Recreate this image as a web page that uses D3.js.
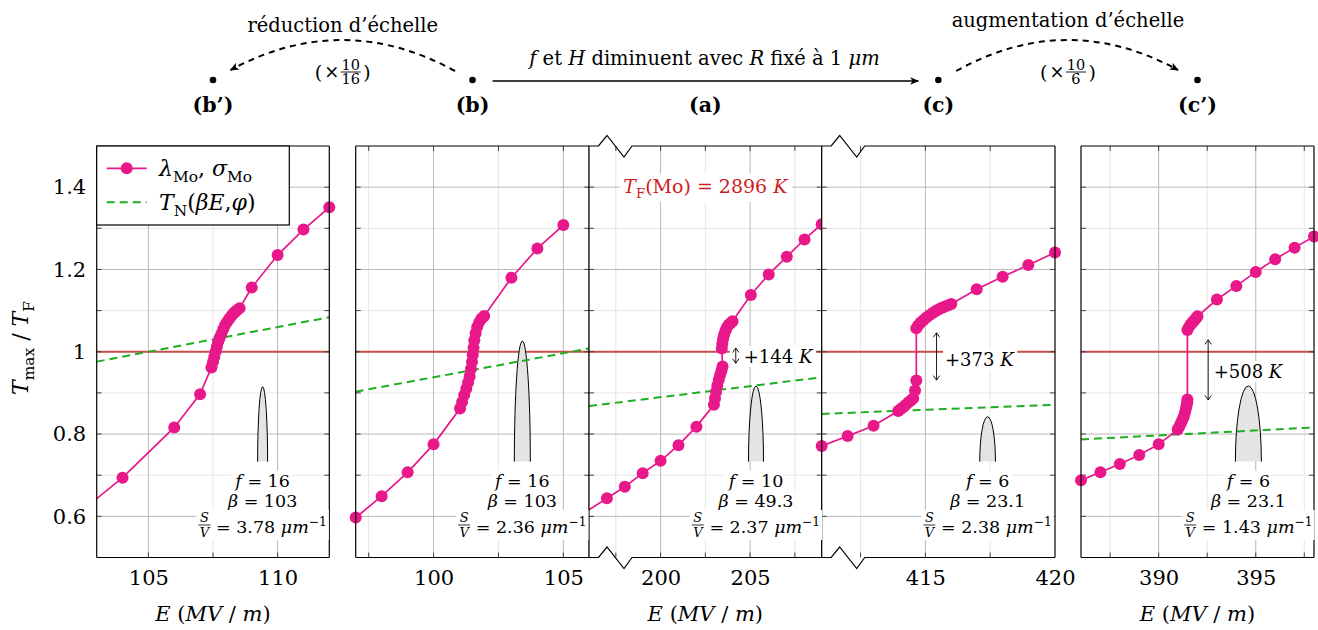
<!DOCTYPE html>
<html><head><meta charset="utf-8">
<script src="https://cdnjs.cloudflare.com/ajax/libs/d3/7.8.5/d3.min.js"></script>
<style>
html,body{margin:0;padding:0;background:#fff;}
svg{display:block;font-family:"DejaVu Serif",serif;}
</style></head><body>
<svg id="chart" width="1318" height="630"></svg>
<script>
// ===================== DATA =====================
const panelLabels = ["(b’)", "(b)", "(a)", "(c)", "(c’)"];
const xDomains = [[103,112],[97,106],[196,209],[411,420],[386,398]];
const xTickVals = [[105,110],[100,105],[200,205],[415,420],[390,395]];
const yTickVals = [0.6,0.8,1,1.2,1.4];
const yTickLabels = ["0.6","0.8","1","1.2","1.4"];

// lambda_Mo, sigma_Mo series: E (MV/m) and Tmax/TF
const eBp = [102,104,106,107,107.44,107.50,107.55,107.60,107.65,107.70,107.75,107.82,107.90,107.97,108.05,108.13,108.21,108.29,108.37,108.45,108.53,109,110,111,112];
const tBp = [0.592,0.694,0.816,0.897,0.962,0.975,0.988,1.000,1.012,1.024,1.033,1.043,1.055,1.065,1.073,1.080,1.087,1.093,1.098,1.102,1.106,1.156,1.235,1.297,1.351];
const eB = [97,98,99,100,101.02,101.10,101.18,101.26,101.33,101.39,101.44,101.48,101.51,101.54,101.57,101.62,101.68,101.76,101.85,101.95,103,104,105];
const tB = [0.597,0.649,0.707,0.775,0.862,0.878,0.895,0.910,0.925,0.940,0.958,0.975,0.992,1.010,1.028,1.045,1.060,1.072,1.081,1.087,1.180,1.251,1.308];
const eA = [195,197,198,199,200,201,202,202.98,203.04,203.10,203.17,203.25,203.33,203.40,203.46,203.42,203.45,203.49,203.55,203.63,203.72,203.82,203.92,204.02,205.04,206.04,207.05,208.04,209];
const tA = [0.588,0.644,0.672,0.705,0.735,0.773,0.818,0.871,0.887,0.903,0.918,0.932,0.944,0.954,0.964,1.008,1.020,1.031,1.042,1.052,1.060,1.066,1.070,1.074,1.138,1.188,1.231,1.273,1.310];
const eC = [411,412,413,413.95,414.05,414.15,414.25,414.35,414.45,414.53,414.60,414.65,414.65,414.72,414.82,414.93,415.04,415.16,415.28,415.40,415.52,415.64,415.76,415.88,416.0,416.98,417.98,418.97,420];
const tC = [0.771,0.795,0.820,0.856,0.861,0.866,0.871,0.877,0.882,0.887,0.906,0.930,1.057,1.064,1.071,1.077,1.083,1.089,1.094,1.099,1.103,1.107,1.110,1.113,1.116,1.152,1.182,1.211,1.241];
const eCp = [386,387,388,389,390,390.98,391.06,391.14,391.22,391.29,391.35,391.40,391.44,391.47,391.48,391.48,391.56,391.65,391.74,391.83,391.92,392.0,393,394,395,396,397,398];
const tCp = [0.688,0.707,0.727,0.749,0.775,0.811,0.818,0.826,0.834,0.842,0.852,0.861,0.870,0.877,0.884,1.053,1.060,1.066,1.071,1.076,1.081,1.086,1.127,1.160,1.194,1.225,1.253,1.280];

// T_N(beta E, phi) at the two ends of each panel's E range
const tnStart = [0.976,0.903,0.868,0.849,0.787];
const tnEnd   = [1.084,1.008,0.938,0.871,0.816];

// emitter parameters
const fVals = ["16","16","10","6","6"];
const betaVals = ["103","103","49.3","23.1","23.1"];
const svVals = ["3.78","2.36","2.37","2.38","1.43"];

// temperature jumps (panels a, c, c')
const jumpPanel = [2,3,4];
const jumpLabels = ["+144","+373","+508"];
const jumpE  = [204.2,415.43,392.55];
const jumpHi = [1.009,1.046,1.029];
const jumpLo = [0.972,0.931,0.883];

// emitter tip sketches (centre E, apex in Tmax/TF units)
const tipE = [109.42,103.42,205.33,417.40,394.62];
const tipTop = [0.915,1.026,0.917,0.842,0.917];
const tipBase = 0.733;

// ===================== LAYOUT =====================
const panelX = [[96.7,329.3],[355.7,589.3],[589,821.7],[821.7,1055],[1081,1314]];
const broken = [false,false,true,true,false];
const tipW = [10,16,15,15.7,26];
const Y0 = 146, Y1 = 557.5;
const PINK = "#e8178a", GREEN = "#1fae1f", RED = "#c8504b", TXTRED = "#d01c1c";
const NB = "\u00a0";

const svg = d3.select("#chart");
const defs = svg.append("defs");
const y = d3.scaleLinear().domain([0.5,1.5]).range([Y1,Y0]);

function rich(t, parts, size){
  let shift = 0;
  parts.forEach(([txt, style])=>{
    const f = (style||"").split(" ");
    const ts = t.append("tspan").text(txt.replace(/ /g, NB));
    let target = 0;
    if (f.includes("sub")) target = size*0.25;
    if (f.includes("sup")) target = -size*0.42;
    if (target - shift !== 0) ts.attr("dy", target - shift);
    shift = target;
    if (f.includes("sub") || f.includes("sup")) ts.attr("font-size", size*0.7);
    if (f.includes("i")) ts.attr("font-style","italic");
    if (f.includes("b")) ts.attr("font-weight","bold");
  });
  return t;
}
function bgRect(g, node, box, px=2, py=1){
  g.insert("rect", ()=>node).attr("x",box.x-px).attr("y",box.y-py)
   .attr("width",box.width+2*px).attr("height",box.height+2*py).attr("fill","#fff");
}
function unionBox(a,b){
  const x=Math.min(a.x,b.x), y=Math.min(a.y,b.y);
  return {x, y, width:Math.max(a.x+a.width,b.x+b.width)-x, height:Math.max(a.y+a.height,b.y+b.height)-y};
}
function openHead(g, x, yy, dir){ // dir -1 up, +1 down
  g.append("path").attr("d",`M${x-3.2},${yy-dir*4.5} L${x},${yy} L${x+3.2},${yy-dir*4.5}`)
   .attr("fill","none").attr("stroke","#000").attr("stroke-width",0.9);
}

const seriesE = [eBp,eB,eA,eC,eCp], seriesT = [tBp,tB,tA,tC,tCp];
const xScales = [];
const later = svg.append("g").attr("id","later");

panelX.forEach((px,i)=>{
  const [x0,x1] = px;
  const [a,b] = xDomains[i];
  const x = d3.scaleLinear().domain(xDomains[i]).range(px);
  xScales.push(x);
  const g = svg.insert("g","#later");
  g.append("rect").attr("x",x0).attr("y",Y0).attr("width",x1-x0).attr("height",Y1-Y0).attr("fill","#fff");
  defs.append("clipPath").attr("id","cp"+i).append("rect")
    .attr("x",x0).attr("y",Y0).attr("width",x1-x0).attr("height",Y1-Y0);
  const inner = g.append("g").attr("clip-path",`url(#cp${i})`);

  const xg = d3.range(Math.ceil(a/2.5), Math.floor(b/2.5)+1).map(k=>k*2.5).filter(v=>v>a+1e-9 && v<b-1e-9);
  const yg = d3.range(6,15).map(k=>k/10);
  const majY = v=>Math.round(v*10)%2===0;
  const majX = v=>Math.abs(v%5)<1e-9;
  [false,true].forEach(maj=>{
    inner.selectAll(null).data(yg.filter(v=>majY(v)===maj)).join("line")
      .attr("x1",x0).attr("x2",x1).attr("y1",d=>y(d)).attr("y2",d=>y(d))
      .attr("stroke",maj?"#b8b8b8":"#e6e6e6").attr("stroke-width",1);
    inner.selectAll(null).data(xg.filter(v=>majX(v)===maj)).join("line")
      .attr("y1",Y0).attr("y2",Y1).attr("x1",d=>x(d)).attr("x2",d=>x(d))
      .attr("stroke",maj?"#b8b8b8":"#e6e6e6").attr("stroke-width",1);
  });

  // Tmax = TF
  inner.append("line").attr("x1",x0).attr("x2",x1).attr("y1",y(1)).attr("y2",y(1))
    .attr("stroke",RED).attr("stroke-width",1.8);

  // emitter tip sketch
  const cx = x(tipE[i]), by = y(tipBase), ty = y(tipTop[i]), hw = tipW[i]/2;
  inner.append("path").attr("d",`M${cx-hw},${by} A${hw},${by-ty} 0 0 1 ${cx+hw},${by} Z`)
    .attr("fill","#e4e4e4").attr("stroke","none");
  inner.append("path").attr("d",`M${cx-hw},${by} A${hw},${by-ty} 0 0 1 ${cx+hw},${by}`)
    .attr("fill","none").attr("stroke","#000").attr("stroke-width",1);

  // T_N line
  const line = d3.line().x(d=>x(d[0])).y(d=>y(d[1]));
  inner.append("path").attr("d", line([[a,tnStart[i]],[b,tnEnd[i]]]))
    .attr("fill","none").attr("stroke",GREEN).attr("stroke-width",2).attr("stroke-dasharray","8,5");

  // lambda, sigma series
  const pts = seriesE[i].map((e,k)=>[e, seriesT[i][k]]);
  inner.append("path").attr("d", line(pts)).attr("fill","none").attr("stroke",PINK).attr("stroke-width",1.7);

  // ticks
  const tk = g.append("g").attr("stroke","#444").attr("stroke-width",1);
  d3.range(6,15).map(k=>k/10).forEach(v=>{
    tk.append("line").attr("x1",x0).attr("x2",x0+5).attr("y1",y(v)).attr("y2",y(v));
    tk.append("line").attr("x1",x1-5).attr("x2",x1).attr("y1",y(v)).attr("y2",y(v));
  });
  xg.forEach(v=>{
    tk.append("line").attr("x1",x(v)).attr("x2",x(v)).attr("y1",Y1).attr("y2",Y1-5);
    tk.append("line").attr("x1",x(v)).attr("x2",x(v)).attr("y1",Y0).attr("y2",Y0+5);
  });

  // markers
  g.selectAll(null).data(pts.filter(d=>d[0]>=a-1e-9 && d[0]<=b+1e-9)).join("circle")
    .attr("cx",d=>x(d[0])).attr("cy",d=>y(d[1])).attr("r",6).attr("fill",PINK);

  // borders (with axis breaks)
  const zig = (xs,yy)=>` L${xs+9.5},${yy} L${xs+18},${yy-10.5} L${xs+35},${yy+11} L${xs+43},${yy}`;
  const bd = g.append("g").attr("stroke","#000").attr("stroke-width",1.2).attr("fill","none");
  bd.append("path").attr("d",`M${x0},${Y0}`+(broken[i]?zig(x0,Y0):"")+` L${x1},${Y0}`);
  bd.append("path").attr("d",`M${x0},${Y1}`+(broken[i]?zig(x0,Y1):"")+` L${x1},${Y1}`);
  bd.append("line").attr("x1",x0).attr("x2",x0).attr("y1",Y0).attr("y2",Y1);
  bd.append("line").attr("x1",x1).attr("x2",x1).attr("y1",Y0).attr("y2",Y1);

  // x tick labels
  const ax = g.append("g").attr("transform",`translate(0,${Y1})`)
    .call(d3.axisBottom(x).tickValues(xTickVals[i]).tickSize(0).tickPadding(13).tickFormat(d3.format("d")));
  ax.select(".domain").remove();
  ax.selectAll("text").attr("font-size",21).attr("font-family","DejaVu Serif").attr("fill","#000");

  // info box
  const ib = later.append("g");
  const t1 = rich(ib.append("text").attr("x",cx).attr("y",486.5).attr("text-anchor","middle").attr("font-size",17.5),
    [["f","i"],[" = "+fVals[i],""]], 17.5);
  const t2 = rich(ib.append("text").attr("x",cx).attr("y",506.5).attr("text-anchor","middle").attr("font-size",17.5),
    [["β","i"],[" = "+betaVals[i],""]], 17.5);
  const t3 = rich(ib.append("text").attr("x",0).attr("y",533).attr("font-size",17.5),
    [[" = "+svVals[i]+" ",""],["μm","i"],["−1","sup"]], 17.5);
  const w3 = t3.node().getComputedTextLength();
  const fw = 12, total = fw + w3;
  const left = cx - total/2;
  t3.attr("x", left + fw);
  const fr = ib.append("g");
  fr.append("text").attr("x",left+fw/2).attr("y",522).attr("text-anchor","middle").attr("font-size",13).attr("font-style","italic").text("S");
  fr.append("line").attr("x1",left).attr("x2",left+fw).attr("y1",525).attr("y2",525).attr("stroke","#000").attr("stroke-width",0.8);
  fr.append("text").attr("x",left+fw/2).attr("y",537).attr("text-anchor","middle").attr("font-size",13).attr("font-style","italic").text("V");
  bgRect(ib, t1.node(), t1.node().getBBox(), 2, 0);
  bgRect(ib, t2.node(), t2.node().getBBox(), 2, 0);
  bgRect(ib, t3.node(), unionBox(t3.node().getBBox(), fr.node().getBBox()), 2, 0);
});

// y axis
const ay = svg.append("g").attr("transform",`translate(${panelX[0][0]},0)`)
  .call(d3.axisLeft(y).tickValues(yTickVals).tickSize(0).tickPadding(10.5).tickFormat((d,k)=>yTickLabels[k]));
ay.select(".domain").remove();
ay.selectAll("text").attr("font-size",21).attr("font-family","DejaVu Serif").attr("fill","#000");

// y label
rich(svg.append("text").attr("transform","translate(28,348) rotate(-90)").attr("text-anchor","middle").attr("font-size",22),
  [["T","i"],["max","sub"],[" / ",""],["T","i"],["F","sub"]], 22);

// x labels
[0,2,4].forEach(i=>{
  const cxm = (panelX[i][0]+panelX[i][1])/2;
  rich(svg.append("text").attr("x",cxm).attr("y",621).attr("text-anchor","middle").attr("font-size",21),
    [["E","i"],[" (",""],["MV","i"],[" / ",""],["m","i"],[")",""]], 21);
});

// legend
const lg = svg.append("g");
lg.append("rect").attr("x",panelX[0][0]).attr("y",Y0).attr("width",289.3-panelX[0][0]).attr("height",225-Y0)
  .attr("fill","#fff").attr("stroke","#000").attr("stroke-width",1.2);
lg.append("line").attr("x1",106.7).attr("x2",146.7).attr("y1",168.3).attr("y2",168.3).attr("stroke",PINK).attr("stroke-width",1.7);
lg.append("circle").attr("cx",126.7).attr("cy",168.3).attr("r",6).attr("fill",PINK);
lg.append("line").attr("x1",106.7).attr("x2",146.7).attr("y1",202.3).attr("y2",202.3).attr("stroke",GREEN).attr("stroke-width",2).attr("stroke-dasharray","8,5");
rich(lg.append("text").attr("x",159).attr("y",176).attr("font-size",22),
  [["λ","i"],["Mo","sub"],[", ",""],["σ","i"],["Mo","sub"]], 22);
rich(lg.append("text").attr("x",159).attr("y",210).attr("font-size",22),
  [["T","i"],["N","sub"],["(",""],["βE","i"],[",",""],["φ","i"],[")",""]], 22);

// TF(Mo) label
{
  const cxm = (panelX[2][0]+panelX[2][1])/2;
  const t = rich(later.append("text").attr("x",cxm).attr("y",193).attr("text-anchor","middle").attr("font-size",19).attr("fill",TXTRED),
    [["T","i"],["F","sub"],["(Mo) = 2896 ",""],["K","i"]], 19);
  bgRect(later, t.node(), t.node().getBBox(), 3, 1);
}

// jumps
jumpPanel.forEach((p,k)=>{
  const x = xScales[p];
  const ax = x(jumpE[k]), yh = y(jumpHi[k]), yl = y(jumpLo[k]);
  const g = later.append("g");
  const small = k===0;
  const tx = ax + (small?8:k===1?8.5:5.5);
  const base = k===0?363:(k===1?366:378);
  const t = rich(g.append("text").attr("x",tx).attr("y",base).attr("font-size",18),
    [[jumpLabels[k]+" ",""],["K","i"]], 18);
  let box = t.node().getBBox();
  if (small) box = unionBox(box,{x:ax-4,y:yh,width:8,height:yl-yh});
  bgRect(g, t.node(), box, 2, 0);
  g.append("line").attr("x1",ax).attr("x2",ax).attr("y1",yh).attr("y2",yl).attr("stroke","#000").attr("stroke-width",0.9);
  openHead(g, ax, yh, -1);
  openHead(g, ax, yl, 1);
});

// ===================== TOP DIAGRAM =====================
const topG = svg.append("g");
defs.append("marker").attr("id","ah").attr("viewBox","0 0 10 10").attr("refX",9).attr("refY",5)
  .attr("markerWidth",9).attr("markerHeight",9).attr("markerUnits","userSpaceOnUse").attr("orient","auto")
  .append("path").attr("d","M0,0.8 L10,5 L0,9.2 L2.5,5 Z").attr("fill","#000");
const centers = panelX.map(p=>(p[0]+p[1])/2);
const dotY = 80;
[0,1,3,4].forEach(i=>topG.append("circle").attr("cx",centers[i]).attr("cy",dotY).attr("r",3.3).attr("fill","#000"));
panelLabels.forEach((l,i)=>topG.append("text").attr("x",centers[i]).attr("y",112).attr("text-anchor","middle")
  .attr("font-size",20.5).attr("font-weight","bold").text(l));

// solid arrow b -> c
topG.append("line").attr("x1",centers[1]+20).attr("x2",centers[3]-20).attr("y1",81).attr("y2",81)
  .attr("stroke","#000").attr("stroke-width",1.6).attr("marker-end","url(#ah)");
rich(topG.append("text").attr("x",(centers[1]+centers[3])/2-1).attr("y",65).attr("text-anchor","middle").attr("font-size",19.5),
  [["f","i"],[" et ",""],["H","i"],[" diminuent avec ",""],["R","i"],[" fixé à 1 ",""],["μm","i"]], 19.5);

// dashed arcs
function arc(xs, ys, xe, ye, cyc){
  const mx = (xs+xe)/2;
  topG.append("path").attr("d",`M${xs},${ys} Q${mx},${cyc} ${xe},${ye}`)
    .attr("fill","none").attr("stroke","#000").attr("stroke-width",2).attr("stroke-dasharray","6,5")
    .attr("marker-end","url(#ah)");
}
arc(centers[1]-17.5, 71, centers[0]+17.6, 70, 9.5);
arc(centers[3]+17.8, 71, centers[4]-19.5, 70, 9.5);
const midL = (centers[0]+centers[1])/2, midR = (centers[3]+centers[4])/2;
topG.append("text").attr("x",midL).attr("y",32).attr("text-anchor","middle").attr("font-size",19.5).text("réduction d’échelle");
topG.append("text").attr("x",midR).attr("y",27).attr("text-anchor","middle").attr("font-size",19.5).text("augmentation d’échelle");
function scaleFactor(mid, den){
  topG.append("text").attr("x",mid-28).attr("y",79).attr("font-size",19).text("(");
  topG.append("text").attr("x",mid-11).attr("y",78).attr("text-anchor","middle").attr("font-size",18).text("×");
  topG.append("text").attr("x",mid+8).attr("y",69.5).attr("text-anchor","middle").attr("font-size",14.5).text("10");
  topG.append("line").attr("x1",mid-2).attr("x2",mid+18).attr("y1",72).attr("y2",72).attr("stroke","#000").attr("stroke-width",0.9);
  topG.append("text").attr("x",mid+8).attr("y",84).attr("text-anchor","middle").attr("font-size",14.5).text(den);
  topG.append("text").attr("x",mid+20.5).attr("y",79).attr("font-size",19).text(")");
}
scaleFactor(midL, "16");
scaleFactor(midR, "6");
</script>
</body></html>
